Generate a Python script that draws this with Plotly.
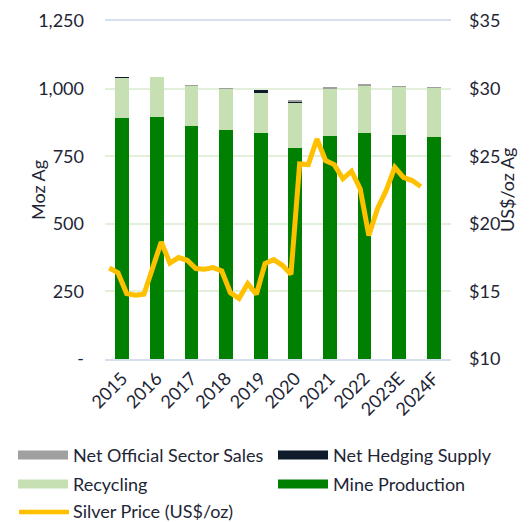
import plotly.graph_objects as go

years = ['2015', '2016', '2017', '2018', '2019', '2020', '2021', '2022', '2023E', '2024F']
mine_production = [892, 896, 860, 847, 834, 779, 826, 834, 827, 820]
recycling = [148, 148, 150, 152, 148, 167, 176, 178, 181, 183]
net_hedging = [1.5, 0, 0, 0, 14, 8, 0, 0, 0, 0]
net_official = [0, 0, 1, 0.5, 0, 2, 0.8, 1.5, 1, 1]

# Quarterly average silver price, Q1 2015 .. Q1 2024 (40-quarter axis to 2024 Q4)
price_quarters = list(range(37))
silver_price = [16.73, 16.37, 14.84, 14.72, 14.79, 16.69, 18.65, 17.10,
                17.50, 17.30, 16.69, 16.64, 16.76, 16.51, 14.89, 14.47,
                15.58, 14.79, 17.06, 17.35, 16.93, 16.27, 24.43, 24.38,
                26.27, 24.68, 24.38, 23.33, 23.89, 22.59, 19.14, 21.11,
                22.46, 24.18, 23.44, 23.20, 22.76]

left_ticks = [0, 250, 500, 750, 1000, 1250]
left_ticktext = ['-', '250', '500', '750', '1,000', '1,250']
right_ticks = [10, 15, 20, 25, 30, 35]
right_ticktext = ['$10', '$15', '$20', '$25', '$30', '$35']

C_MINE = '#008000'
C_REC = '#c6e0b4'
C_HEDGE = '#0f1a2b'
C_OFF = '#a0a0a0'
C_PRICE = '#ffc000'
TXT = '#1e2535'
FONT = 'Lato'
FS = 18

# page body has an 8px default margin; work in window pixels and offset
OFF = 8
WIN_W, WIN_H = 532, 522
W, H = WIN_W - OFF, WIN_H - OFF
PL, PR, PT, PB = 105, 451, 21, 359   # plot area in window pixels
ML = PL - OFF
MR = WIN_W - PR
MT = PT - OFF
MB = WIN_H - PB

fig = go.Figure()
fig.add_trace(go.Bar(x=years, y=mine_production, name='Mine Production',
                     marker=dict(color=C_MINE, line=dict(width=0)), showlegend=False))
fig.add_trace(go.Bar(x=years, y=recycling, name='Recycling',
                     marker=dict(color=C_REC, line=dict(width=0)), showlegend=False))
fig.add_trace(go.Bar(x=years, y=net_hedging, name='Net Hedging Supply',
                     marker=dict(color=C_HEDGE, line=dict(width=0)), showlegend=False))
fig.add_trace(go.Bar(x=years, y=net_official, name='Net Official Sector Sales',
                     marker=dict(color=C_OFF, line=dict(width=0)), showlegend=False))
fig.add_trace(go.Scatter(x=price_quarters, y=silver_price, mode='lines',
                         name='Silver Price (US$/oz)', xaxis='x2', yaxis='y2',
                         line=dict(color=C_PRICE, width=5), showlegend=False))

fig.update_layout(
    width=W, height=H,
    margin=dict(l=ML, r=MR, t=MT, b=MB),
    paper_bgcolor='white', plot_bgcolor='white',
    barmode='stack', bargap=0.6,
    font=dict(family=FONT, size=FS, color=TXT),
    xaxis=dict(type='category', range=[-0.5, 9.5], tickangle=-45, automargin=False,
               showline=True, mirror=True, linecolor='#d6dfee', linewidth=2,
               showgrid=False, ticks='', tickfont=dict(size=FS, color=TXT)),
    xaxis2=dict(overlaying='x', range=[-0.5, 39.5], visible=False, automargin=False),
    yaxis=dict(range=[0, 1250], tickvals=left_ticks, ticktext=left_ticktext,
               showgrid=True, gridcolor='#e2efda', gridwidth=2, zeroline=False,
               showline=False, ticks='', ticklabelstandoff=20, automargin=False,
               tickfont=dict(size=FS, color=TXT)),
    yaxis2=dict(overlaying='y', side='right', range=[10, 35],
                tickvals=right_ticks, ticktext=right_ticktext, showgrid=False,
                zeroline=False, showline=False, ticks='', ticklabelstandoff=17,
                automargin=False, tickfont=dict(size=FS, color=TXT)),
)

pw = PR - PL
ph = PB - PT

def px_x(x):
    return (x - PL) / pw

def px_y(y):
    return (PB - y) / ph

fig.add_annotation(text='Moz Ag', textangle=-90, x=px_x(25), y=px_y(190),
                   xref='paper', yref='paper', showarrow=False,
                   font=dict(size=FS, color=TXT))
fig.add_annotation(text='US$/oz Ag', textangle=-90, x=px_x(520), y=px_y(190),
                   xref='paper', yref='paper', showarrow=False,
                   font=dict(size=FS, color=TXT))

legend_items = [
    ('Net Official Sector Sales', C_OFF, 18, 455, 'box'),
    ('Net Hedging Supply', C_HEDGE, 278, 455, 'box'),
    ('Recycling', C_REC, 18, 484, 'box'),
    ('Mine Production', C_MINE, 278, 484, 'box'),
    ('Silver Price (US$/oz)', C_PRICE, 18, 511, 'line'),
]
for label, color, x0, yc, kind in legend_items:
    if kind == 'box':
        fig.add_shape(type='rect', xref='paper', yref='paper',
                      x0=px_x(x0), x1=px_x(x0 + 50), y0=px_y(yc - 4.5), y1=px_y(yc + 4.5),
                      fillcolor=color, line=dict(width=0))
    else:
        fig.add_shape(type='line', xref='paper', yref='paper',
                      x0=px_x(x0 + 1), x1=px_x(x0 + 51), y0=px_y(yc + 1), y1=px_y(yc + 1),
                      line=dict(color=color, width=4.5))
    fig.add_annotation(text=label, x=px_x(x0 + 53), y=px_y(yc), xref='paper', yref='paper',
                       xanchor='left', yanchor='middle', showarrow=False,
                       font=dict(size=FS, color=TXT))

fig.write_html('out.html')
